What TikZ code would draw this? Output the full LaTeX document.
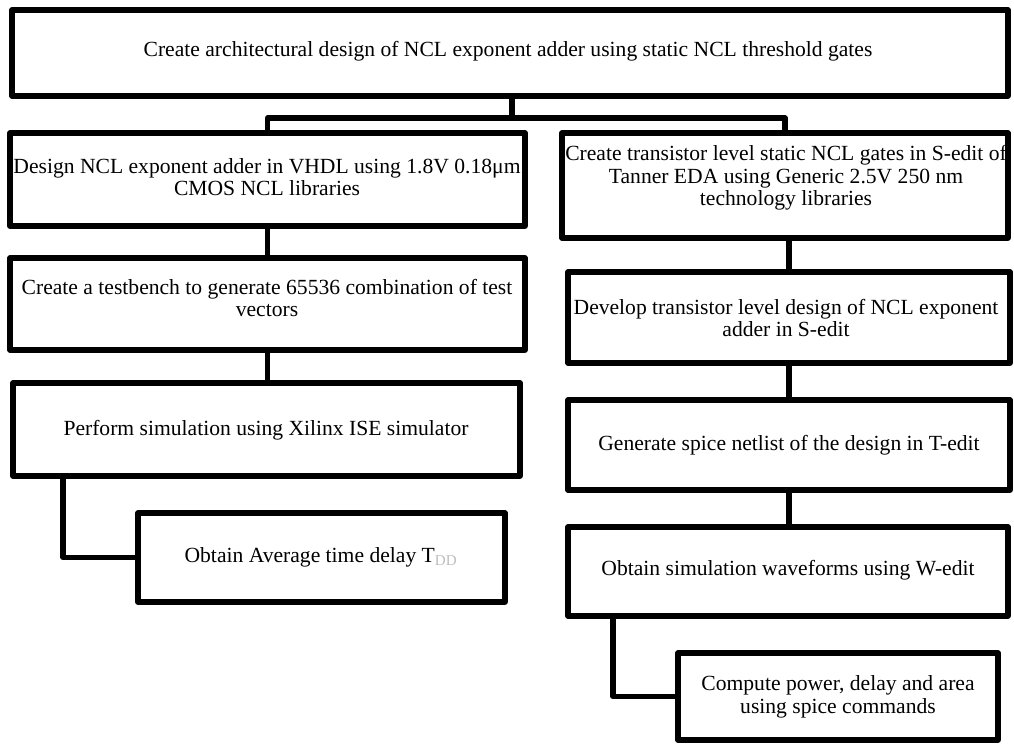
\documentclass[tikz,border=0pt]{standalone}
\usepackage{fontspec}
\setmainfont{Liberation Serif}
\begin{document}
\begin{tikzpicture}[x=0.75pt,y=-0.75pt,
  stepbox/.style={draw=black, line width=3.8pt, line join=round, fill=white, inner sep=0pt},
  txt/.style={align=center, font=\fontsize{16.2}{16.8}\selectfont, inner sep=0pt},
  conn/.style={draw=black, line width=3.8pt, line join=round}]
\useasboundingbox (0,0) rectangle (1014,745);
% boxes
\node[stepbox, minimum width=996*0.75pt, minimum height=86*0.75pt] (top) at (510,53) {};
\node[stepbox, minimum width=515*0.75pt, minimum height=93*0.75pt] (l1) at (267.5,179.5) {};
\node[stepbox, minimum width=515*0.75pt, minimum height=92*0.75pt] (l2) at (267.5,304) {};
\node[stepbox, minimum width=507*0.75pt, minimum height=93*0.75pt] (l3) at (266.5,429.5) {};
\node[stepbox, minimum width=367*0.75pt, minimum height=89*0.75pt] (l4) at (321.5,557.5) {};
\node[stepbox, minimum width=446*0.75pt, minimum height=105*0.75pt] (r1) at (785,185.5) {};
\node[stepbox, minimum width=442*0.75pt, minimum height=91*0.75pt] (r2) at (789,317.5) {};
\node[stepbox, minimum width=442*0.75pt, minimum height=90*0.75pt] (r3) at (789,445) {};
\node[stepbox, minimum width=440*0.75pt, minimum height=89*0.75pt] (r4) at (788,571.5) {};
\node[stepbox, minimum width=320*0.75pt, minimum height=87*0.75pt] (r5) at (838,696.5) {};
% texts
\node[txt] (ttop) at (508,51) {Create architectural design of NCL exponent adder using static NCL threshold gates};
\node[txt] (tl1) at (267,177) {Design NCL exponent adder in VHDL using 1.8V 0.18μm\\CMOS NCL libraries};
\node[txt] (tl2) at (267,298) {Create a testbench to generate 65536 combination of test\\vectors};
\node[txt] (tl3) at (266,430) {Perform simulation using Xilinx ISE simulator};
\node[txt] (tl4) at (321,557) {Obtain Average time delay T\textsubscript{\color{black!25}DD}};
\node[txt] (tr1) at (786,178) {Create transistor level static NCL gates in S-edit of\\Tanner EDA using Generic 2.5V 250 nm\\technology libraries};
\node[txt] (tr2) at (786,318) {Develop transistor level design of NCL exponent\\adder in S-edit};
\node[txt] (tr3) at (789,445) {Generate spice netlist of the design in T-edit};
\node[txt] (tr4) at (788,570) {Obtain simulation waveforms using W-edit};
\node[txt] (tr5) at (838,697) {Compute power, delay and area\\using spice commands};
% connectors
\coordinate (bar) at (512,118);
\coordinate (jl) at (63,0);
\coordinate (jr) at (613,0);
\draw[conn] (top.south -| bar) -- (bar);
\draw[conn] (bar) -| (l1.north);
\draw[conn] (bar) -| (r1.north);
\draw[conn] (l1.south) -- (l2.north);
\draw[conn] (l2.south) -- (l3.north -| l2.south);
\draw[conn] (l3.south -| jl) |- (l4.west);
\draw[conn] (r1.south -| r2.north) -- (r2.north);
\draw[conn] (r2.south) -- (r3.north);
\draw[conn] (r3.south) -- (r4.north -| r3.south);
\draw[conn] (r4.south -| jr) |- (r5.west);
\end{tikzpicture}
\end{document}
